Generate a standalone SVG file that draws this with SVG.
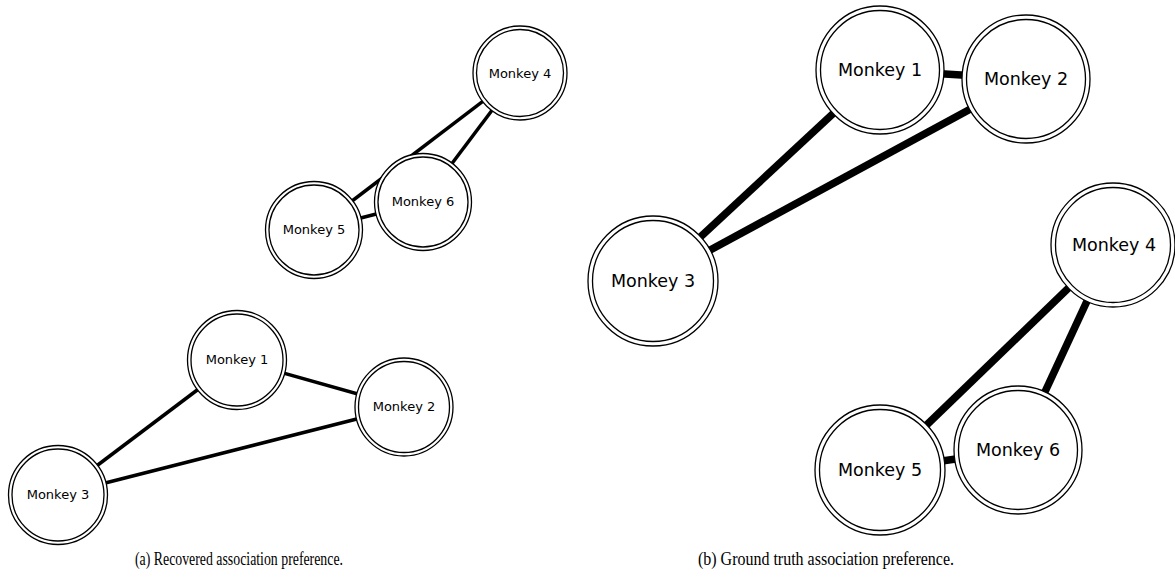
<svg xmlns="http://www.w3.org/2000/svg" width="1175" height="587" viewBox="0 0 1175 587">
  <style>
    .ring { fill: #ffffff; stroke: #000000; stroke-width: 1.3; }
    .inner { fill: none; stroke: #000000; stroke-width: 1.3; }
    .lbl { font-family: "DejaVu Sans", "Noto Sans", sans-serif; text-anchor: middle; fill: #000000; }
    .lbl-s { font-size: 13px; }
    .lbl-l { font-size: 17.5px; }
    .edge-s { stroke: #000000; stroke-width: 3.5; }
    .edge-l { stroke: #000000; stroke-width: 7.5; }
    .cap { font-family: "Liberation Serif", "Times New Roman", serif; font-size: 19px; fill: #000000; text-anchor: middle; }
  </style>

  <!-- Panel (a): recovered association preference -->
  <g id="edges-a">
    <line class="edge-s" x1="520" y1="73" x2="314" y2="230"/>
    <line class="edge-s" x1="520" y1="73" x2="423" y2="202"/>
    <line class="edge-s" x1="314" y1="230" x2="423" y2="202"/>
    <line class="edge-s" x1="237" y1="360" x2="404" y2="407"/>
    <line class="edge-s" x1="237" y1="360" x2="58" y2="495"/>
    <line class="edge-s" x1="404" y1="407" x2="58" y2="495"/>
  </g>

  <g id="a-monkey4">
    <circle class="ring" cx="520" cy="73" r="47"/>
    <circle class="inner" cx="520" cy="73" r="43.5"/>
    <text class="lbl lbl-s" x="520" y="78">Monkey 4</text>
  </g>
  <g id="a-monkey5">
    <circle class="ring" cx="314" cy="230" r="48.5"/>
    <circle class="inner" cx="314" cy="230" r="45"/>
    <text class="lbl lbl-s" x="314" y="234">Monkey 5</text>
  </g>
  <g id="a-monkey6">
    <circle class="ring" cx="423" cy="202" r="48.5"/>
    <circle class="inner" cx="423" cy="202" r="45"/>
    <text class="lbl lbl-s" x="423" y="206">Monkey 6</text>
  </g>
  <g id="a-monkey1">
    <circle class="ring" cx="237" cy="360" r="49.5"/>
    <circle class="inner" cx="237" cy="360" r="46"/>
    <text class="lbl lbl-s" x="237" y="364">Monkey 1</text>
  </g>
  <g id="a-monkey2">
    <circle class="ring" cx="404" cy="407" r="49"/>
    <circle class="inner" cx="404" cy="407" r="45.5"/>
    <text class="lbl lbl-s" x="404" y="411">Monkey 2</text>
  </g>
  <g id="a-monkey3">
    <circle class="ring" cx="58" cy="495" r="49.5"/>
    <circle class="inner" cx="58" cy="495" r="46"/>
    <text class="lbl lbl-s" x="58" y="499">Monkey 3</text>
  </g>

  <!-- Panel (b): ground truth association preference -->
  <g id="edges-b">
    <line class="edge-l" x1="880" y1="70" x2="1026" y2="79"/>
    <line class="edge-l" x1="880" y1="70" x2="653" y2="281"/>
    <line class="edge-l" x1="1026" y1="79" x2="653" y2="281"/>
    <line class="edge-l" x1="1113" y1="245" x2="880" y2="470"/>
    <line class="edge-l" x1="1113" y1="245" x2="1018" y2="450"/>
    <line class="edge-l" x1="880" y1="470" x2="1018" y2="450"/>
  </g>

  <g id="b-monkey1">
    <circle class="ring" cx="880" cy="70" r="64"/>
    <circle class="inner" cx="880" cy="70" r="59.5"/>
    <text class="lbl lbl-l" x="880" y="76">Monkey 1</text>
  </g>
  <g id="b-monkey2">
    <circle class="ring" cx="1026" cy="79" r="64"/>
    <circle class="inner" cx="1026" cy="79" r="59.5"/>
    <text class="lbl lbl-l" x="1026" y="85">Monkey 2</text>
  </g>
  <g id="b-monkey3">
    <circle class="ring" cx="653" cy="281" r="65"/>
    <circle class="inner" cx="653" cy="281" r="60.5"/>
    <text class="lbl lbl-l" x="653" y="287">Monkey 3</text>
  </g>
  <g id="b-monkey4">
    <circle class="ring" cx="1113" cy="245" r="62"/>
    <circle class="inner" cx="1113" cy="245" r="57.5"/>
    <text class="lbl lbl-l" x="1114" y="251">Monkey 4</text>
  </g>
  <g id="b-monkey5">
    <circle class="ring" cx="880" cy="470" r="65"/>
    <circle class="inner" cx="880" cy="470" r="60.5"/>
    <text class="lbl lbl-l" x="880" y="476">Monkey 5</text>
  </g>
  <g id="b-monkey6">
    <circle class="ring" cx="1018" cy="450" r="64"/>
    <circle class="inner" cx="1018" cy="450" r="59.5"/>
    <text class="lbl lbl-l" x="1018" y="456">Monkey 6</text>
  </g>

  <!-- Sub-figure captions -->
  <text class="cap" x="239" y="565" textLength="208" lengthAdjust="spacingAndGlyphs">(a) Recovered association preference.</text>
  <text class="cap" x="826" y="565" textLength="256" lengthAdjust="spacingAndGlyphs">(b) Ground truth association preference.</text>
</svg>
